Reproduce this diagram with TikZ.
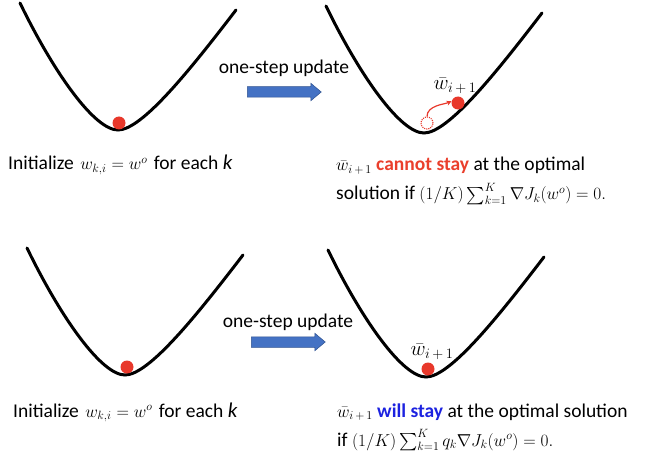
\documentclass[tikz,border=0pt]{standalone}
\usepackage{amsmath}
\usepackage[no-math]{fontspec}
\setmainfont{Carlito}
\usetikzlibrary{shapes.arrows,arrows.meta}
\definecolor{ballred}{HTML}{E8382B}
\definecolor{txtred}{HTML}{EA3F2C}
\definecolor{txtblue}{HTML}{1C22E0}
\definecolor{arrowblue}{HTML}{4472C4}
\definecolor{arrowedge}{HTML}{2F528F}
\newcommand\mth[1]{{\fontsize{18}{21}\selectfont$#1$}}
\newcommand\wbarsub{\bar w_{i\mkern3mu+\mkern3mu1}}
\begin{document}
\begin{tikzpicture}[x=1pt,y=-1pt,
  bowl/.style={line width=3pt, line cap=round},
  ball/.style={circle, fill=ballred, minimum size=13pt, inner sep=0pt},
  ghost/.style={circle, draw=ballred, densely dotted, line width=1.1pt, minimum size=12pt, inner sep=0pt},
  stepnote/.style={font=\fontsize{19.5}{23}\selectfont, inner sep=0pt},
  caption/.style={font=\fontsize{19.5}{23}\selectfont, anchor=base west, inner sep=0pt},
  fatarrow/.style={single arrow, fill=arrowblue, draw=arrowedge, line width=0.5pt,
    minimum height=74pt, inner xsep=0pt, inner ysep=5pt, single arrow head extend=3.5pt,
    single arrow tip angle=80, anchor=west},
  lbl/.style={font=\fontsize{20}{23}\selectfont, inner sep=0pt}]
\useasboundingbox (0,0) rectangle (649,452);
% bowls
\foreach \sx/\sy in {0/0, 306/3, 7/245, 308/247}{
  \begin{scope}[shift={(\sx,\sy)}]
    \draw[bowl] (20,3) .. controls (55,75) and (95,130) .. (118,130)
      .. controls (142,130) and (190,70) .. (236,10);
  \end{scope}
}
% balls
\node[ball] (b1) at (119,123) {};
\node[ghost] (g2) at (427,123) {};
\node[ball] (b2) at (458,103) {};
\node[ball] (b3) at (127,367) {};
\node[ball] (b4) at (428,369) {};
\draw[ballred, line width=1.2pt, -{Stealth[length=5pt,width=5pt]}]
  (g2.north) .. controls +(0,-11) and +(-7,3) .. (b2.165);
% labels
\node[lbl] (l2) at (455,86) {$\wbarsub$};
\node[lbl] (l4) at (432,352) {$\wbarsub$};
% arrows and notes
\node[stepnote] (s1) at (284,68) {one-step update};
\node[fatarrow] (a1) at (247,92) {};
\node[stepnote] (s2) at (288,322) {one-step update};
\node[fatarrow] (a2) at (251,342) {};
% captions
\node[caption] (c1) at (8,170) {Initialize\hspace{2pt} \mth{w_{k,i} = w^o}\hspace{2pt} for each \textit{\fontsize{21}{23}\selectfont k}};
\node[caption] (c2) at (336,171) {\mth{\wbarsub} {\bfseries\color{txtred}cannot stay} at the optimal};
\node[caption] (c3) at (336,200) {solution if \mth{(1/K)\sum_{k=1}^K \nabla J_k(w^o) = 0.}};
\node[caption] (c4) at (13,417) {Initialize\hspace{2pt} \mth{w_{k,i} = w^o}\hspace{2pt} for each \textit{\fontsize{21}{23}\selectfont k}};
\node[caption] (c5) at (337,417) {\mth{\wbarsub} {\bfseries\color{txtblue}will stay} at the optimal solution};
\node[caption] (c6) at (337,446) {if \mth{(1/K)\sum_{k=1}^K q_k\nabla J_k(w^o) = 0.}};
\end{tikzpicture}
\end{document}
